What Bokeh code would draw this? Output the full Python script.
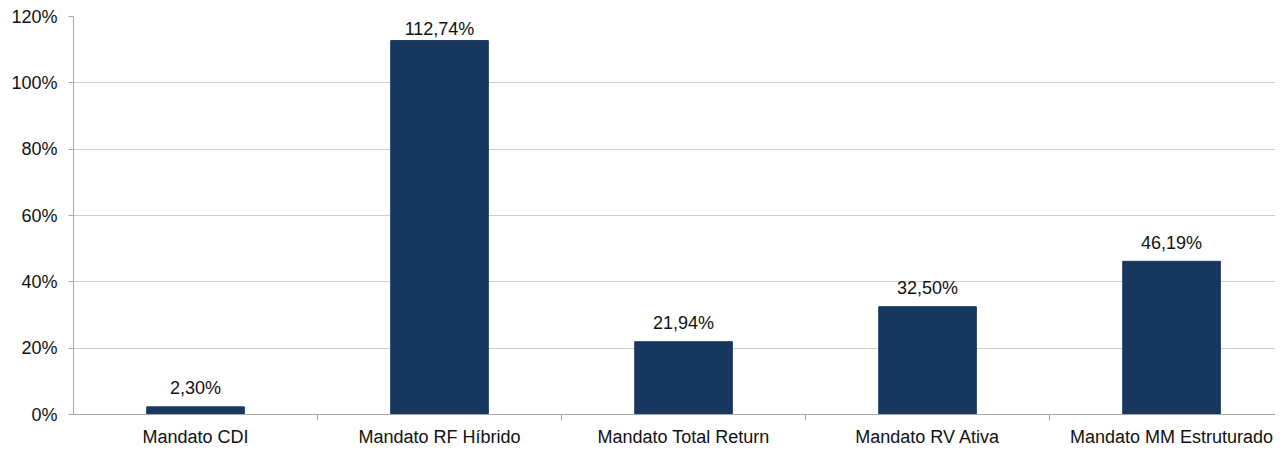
from bokeh.plotting import figure
from bokeh.models import Range1d, FixedTicker
from bokeh.core.properties import value
from bokeh.embed import file_html
from bokeh.resources import INLINE

categories = ["Mandato CDI", "Mandato RF Híbrido", "Mandato Total Return", "Mandato RV Ativa", "Mandato MM Estruturado"]
values = [2.30, 112.74, 21.94, 32.50, 46.19]
labels = ["2,30%", "112,74%", "21,94%", "32,50%", "46,19%"]
y_ticks = [0, 20, 40, 60, 80, 100, 120]

FONT = "Liberation Sans"
BAR = "#17375E"

xs = [i + 0.5 for i in range(len(categories))]

p = figure(frame_width=1202, frame_height=398, output_backend="svg", toolbar_location=None,
           x_range=Range1d(0, 4.926), y_range=Range1d(0, 120),
           min_border_left=73, min_border_right=0, min_border_top=16, min_border_bottom=28)
p.outline_line_color = None
p.background_fill_color = "white"
p.border_fill_color = "white"

p.vbar(x=xs, top=values, width=0.4, bottom=0, color=BAR)

# label positions: above bar top, kept inside the plot area
px_per_unit = 398 / 120
label_y = [min(v + 18.5 / px_per_unit, 120 - 12 / px_per_unit) for v in values]
p.text(x=xs, y=label_y, text=labels, text_align="center", text_baseline="alphabetic",
       text_font=value(FONT), text_font_size="18px", text_color="#111111")

# y axis
p.yaxis.ticker = FixedTicker(ticks=y_ticks)
p.yaxis.major_label_overrides = {t: f"{t}%" for t in y_ticks}
p.yaxis.major_label_text_font = FONT
p.yaxis.major_label_text_font_size = "18px"
p.yaxis.major_label_text_color = "#111111"
p.yaxis.axis_line_color = "#a6a6a6"
p.yaxis.major_tick_line_color = "#a6a6a6"
p.yaxis.major_tick_out = 5
p.yaxis.major_tick_in = 0
p.yaxis.minor_tick_line_color = None
p.yaxis.major_label_standoff = 11

# x axis: labels at category centers, tick marks at boundaries
p.xaxis.ticker = FixedTicker(ticks=xs, minor_ticks=[i for i in range(1, len(categories))])
p.xaxis.major_label_overrides = {x: c for x, c in zip(xs, categories)}
p.xaxis.major_label_text_font = FONT
p.xaxis.major_label_text_font_size = "18px"
p.xaxis.major_label_text_color = "#111111"
p.xaxis.axis_line_color = "#a6a6a6"
p.xaxis.major_tick_line_color = None
p.xaxis.major_tick_out = 0
p.xaxis.major_tick_in = 0
p.xaxis.minor_tick_line_color = "#a6a6a6"
p.xaxis.minor_tick_out = 6
p.xaxis.minor_tick_in = 0
p.xaxis.major_label_standoff = 6

p.xgrid.grid_line_color = None
p.ygrid.grid_line_color = "#9a9a9a"
p.ygrid.grid_line_dash = "1 1"

open("out.html", "w").write(file_html(p, INLINE))
